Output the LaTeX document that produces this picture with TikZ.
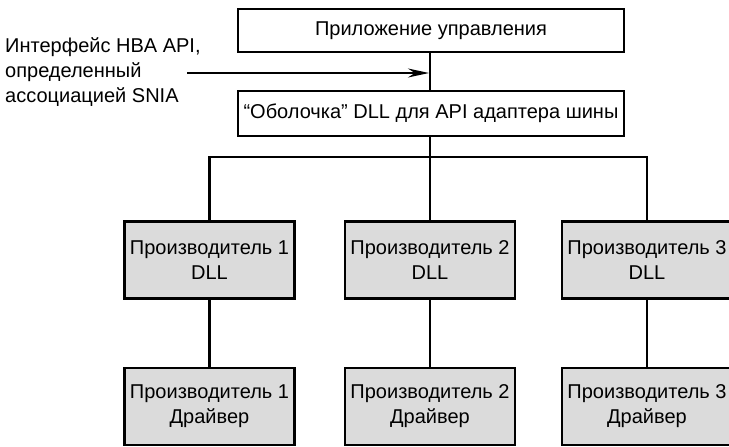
\documentclass[tikz,border=0pt]{standalone}
\usepackage{fontspec}
\setmainfont{Liberation Sans}
\usetikzlibrary{arrows.meta}
\begin{document}
\begin{tikzpicture}[x=1pt,y=-1pt,
  txt/.style={font=\fontsize{20}{25}\selectfont},
  plainbox/.style={txt, draw, line width=2.6pt, fill=white, inner sep=0pt,
    outer sep=0pt, align=center, minimum width=386, minimum height=#1},
  vendorbox/.style={txt, draw, line width=2.6pt, fill=black!14, inner sep=0pt,
    outer sep=0pt, align=center, minimum width=170, minimum height=77},
  wire/.style={line width=2.2pt},
  pointer/.style={line width=1.8pt, -{Stealth[length=21pt,width=9pt]}}
]
\useasboundingbox (0,0) rectangle (729,447);
\clip (0,0) rectangle (729,447);

% management application and the HBA API wrapper library
\node[plainbox=43] (app) at (431,30.5) {Приложение управления};
\node[plainbox=45] (shell) at (431,113.5) {“Оболочка” DLL для API адаптера шины};

% vendor libraries
\node[vendorbox] (dll1) at (209.5,260) {Производитель 1\\DLL};
\node[vendorbox] (dll2) at (430,260) {Производитель 2\\DLL};
\node[vendorbox] (dll3) at (647,260) {Производитель 3\\DLL};

% vendor drivers
\node[vendorbox] (drv1) at (209.5,406.5) {Производитель 1\\Драйвер};
\node[vendorbox] (drv2) at (430,406.5) {Производитель 2\\Драйвер};
\node[vendorbox] (drv3) at (647,406.5) {Производитель 3\\Драйвер};

% connectors
\coordinate (bus) at (430,157);
\draw[wire] (app.south -| dll2.north) -- (shell.north -| dll2.north);
\draw[wire] (shell.south -| dll2.north) -- (dll2.north);
\draw[wire] (dll1.north) |- (bus) -| (dll3.north);
\draw[wire] (dll1) -- (drv1);
\draw[wire] (dll2) -- (drv2);
\draw[wire] (dll3) -- (drv3);

% interface label with its pointer
\node[txt, anchor=west, align=left, inner sep=0pt] (hba) at (5,72)
  {Интерфейс HBA API,\\определенный\\ассоциацией SNIA};
\coordinate (hbatail) at (187,73);
\draw[pointer] (hbatail) -- ([xshift=-1pt]hbatail -| dll2.north);
\end{tikzpicture}
\end{document}
